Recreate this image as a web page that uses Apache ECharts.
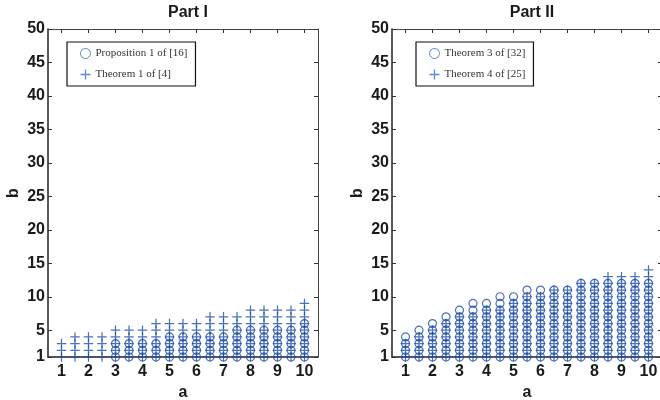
<!DOCTYPE html>
<html>
<head>
<meta charset="utf-8">
<script src="https://cdn.jsdelivr.net/npm/echarts@6/dist/echarts.min.js"></script>
<style>
  html, body { margin: 0; padding: 0; background: #fff; }
  #chart { width: 660px; height: 400px; }
</style>
</head>
<body>
<div id="chart"></div>
<script>
// a values (columns), and the largest b reached in each column
var aValues = [1, 1.5, 2, 2.5, 3, 3.5, 4, 4.5, 5, 5.5, 6, 6.5, 7, 7.5, 8, 8.5, 9, 9.5, 10]
var prop1Max = [0, 0, 0, 0, 3, 3, 3, 3, 4, 4, 4, 4, 4, 5, 5, 5, 5, 5, 6]
var thm1Max  = [3, 4, 4, 4, 5, 5, 5, 6, 6, 6, 6, 7, 7, 7, 8, 8, 8, 8, 9]
var thm3Max  = [4, 5, 6, 7, 8, 9, 9, 10, 10, 11, 11, 11, 11, 12, 12, 12, 12, 12, 12]
var thm4Max  = [3, 4, 5, 6, 7, 7, 8, 8, 9, 10, 10, 11, 11, 12, 12, 13, 13, 13, 14]
var xTicks = [1, 2, 3, 4, 5, 6, 7, 8, 9, 10]
var yTicks = [1, 5, 10, 15, 20, 25, 30, 35, 40, 45, 50]

var blue = '#1e4ea6'
var plusPath = 'path://M4.35,0 H5.65 V4.35 H10 V5.65 H5.65 V10 H4.35 V5.65 H0 V4.35 H4.35 Z'

// each column holds every integer b from 1 up to its max
function points(maxList) {
    var out = []
    for (var i = 0; i < aValues.length; i++) {
        for (var b = 1; b <= maxList[i]; b++) out.push([aValues[i], b])
    }
    return out
}

var labelFont = { fontFamily: 'Liberation Sans', fontWeight: 'bold', fontSize: 16, color: '#1a1a1a' }

function xAxisFor(idx, top) {
    return {
        gridIndex: idx, type: 'value', min: 0.5, max: 10.5,
        position: top ? 'top' : 'bottom',
        name: top ? '' : 'a', nameLocation: 'middle', nameGap: 23,
        nameTextStyle: labelFont,
        axisLine: { show: true, onZero: false, lineStyle: { color: top ? '#444' : '#222', width: top ? 1 : 1.5 } },
        axisTick: { show: true, inside: true, length: 4, customValues: xTicks, lineStyle: { color: '#333' } },
        axisLabel: Object.assign({ show: !top, margin: 7, customValues: xTicks }, labelFont),
        splitLine: { show: false }
    }
}

function yAxisFor(idx, right) {
    return {
        gridIndex: idx, type: 'value', min: 1, max: 50,
        position: right ? 'right' : 'left',
        name: right ? '' : 'b', nameLocation: 'middle', nameGap: 26,
        nameTextStyle: labelFont,
        axisLine: { show: true, onZero: false, lineStyle: { color: right ? '#444' : '#222', width: right ? 1 : 1.5 } },
        axisTick: { show: true, inside: true, length: 4, customValues: yTicks, lineStyle: { color: '#333' } },
        axisLabel: Object.assign({ show: !right, margin: 3, customValues: yTicks }, labelFont),
        splitLine: { show: false }
    }
}

function circleSeries(name, idx, maxList) {
    return {
        name: name, type: 'scatter', xAxisIndex: idx * 2, yAxisIndex: idx * 2,
        symbol: 'circle', symbolSize: 8,
        itemStyle: { color: 'rgba(0,0,0,0)', borderColor: blue, borderWidth: 1.2 },
        data: points(maxList), animation: false
    }
}

function plusSeries(name, idx, maxList) {
    return {
        name: name, type: 'scatter', xAxisIndex: idx * 2, yAxisIndex: idx * 2,
        symbol: plusPath, symbolSize: 9.5,
        itemStyle: { color: blue },
        data: points(maxList), animation: false
    }
}

function legendFor(names, left) {
    return {
        data: [
            { name: names[0], itemStyle: { borderWidth: 1, borderColor: '#3a6cc0' } },
            { name: names[1], itemStyle: { color: '#3a6cc0' } }
        ],
        orient: 'vertical', left: left, top: 42,
        padding: [6, 8, 6, 13], itemGap: 10, itemWidth: 10, itemHeight: 10,
        borderColor: '#111', borderWidth: 1.2, borderRadius: 0,
        textStyle: { fontFamily: 'Liberation Serif', fontSize: 11, color: '#333' }
    }
}

var titleFont = { fontFamily: 'Liberation Sans', fontWeight: 'bold', fontSize: 16, color: '#1a1a1a' }

var chart = echarts.init(document.getElementById('chart'))
chart.setOption({
    animation: false,
    title: [
        { text: 'Part I', left: 183, top: 0, textAlign: 'center', textStyle: titleFont },
        { text: 'Part II', left: 527, top: 0, textAlign: 'center', textStyle: titleFont }
    ],
    legend: [
        legendFor(['Proposition 1 of [16]', 'Theorem 1 of [4]'], 67),
        legendFor(['Theorem 3 of [32]', 'Theorem 4 of [25]'], 416)
    ],
    grid: [
        { left: 48, top: 29, width: 270, height: 328, outerBoundsMode: 'none', containLabel: false },
        { left: 392, top: 29, width: 270, height: 328, outerBoundsMode: 'none', containLabel: false }
    ],
    xAxis: [xAxisFor(0, false), xAxisFor(0, true), xAxisFor(1, false), xAxisFor(1, true)],
    yAxis: [yAxisFor(0, false), yAxisFor(0, true), yAxisFor(1, false), yAxisFor(1, true)],
    series: [
        circleSeries('Proposition 1 of [16]', 0, prop1Max),
        plusSeries('Theorem 1 of [4]', 0, thm1Max),
        circleSeries('Theorem 3 of [32]', 1, thm3Max),
        plusSeries('Theorem 4 of [25]', 1, thm4Max)
    ]
})
</script>
</body>
</html>
